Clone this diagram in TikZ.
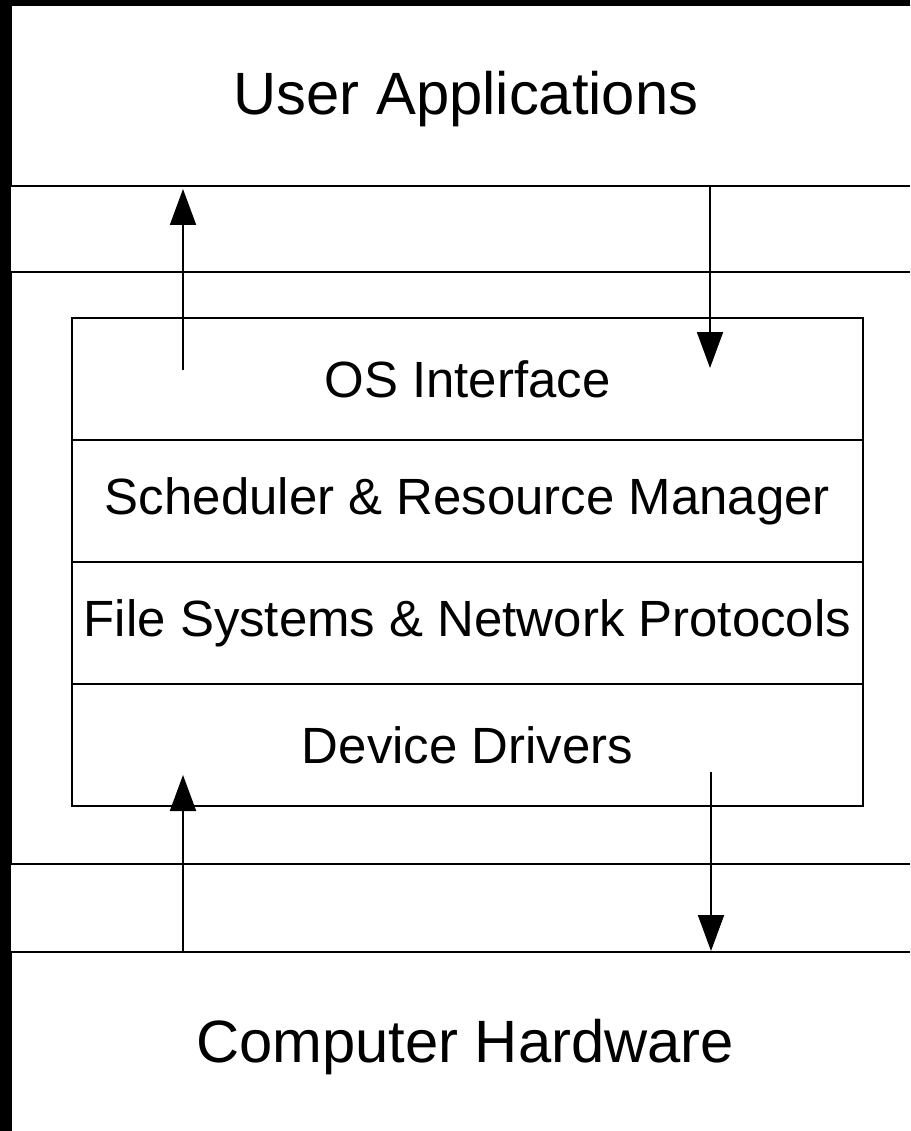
\documentclass[tikz,border=0pt]{standalone}
\usepackage{fontspec}
\setmainfont{Liberation Sans}
\usetikzlibrary{positioning, arrows.meta}
\tikzset{
    layerstyle/.style={draw, line width=1.1pt, rectangle, minimum width=15.82cm, minimum height=2.44cm, inner sep=0pt, outer sep=0pt, font=\fontsize{29}{34}\selectfont},
    bigstyle/.style={font=\fontsize{34}{41}\selectfont, inner sep=0pt},
    bandstyle/.style={line width=1.1pt},
    arrowstyle/.style={line width=1.1pt, -{Triangle[length=0.72cm, width=0.52cm]}}
}
\begin{document}
\begin{tikzpicture}[x=0.02cm, y=-0.02cm]

        \def\topy{186}
        \def\midtopy{272}
        \def\midboty{864}
        \def\boty{952}

        % ================= BACKGROUND =================
        \fill[black] (0,0) rectangle (910,1131);
        \fill[white] (11,4) rectangle (910,1131);
        \useasboundingbox (0,0) rectangle (910,1131);

        % ================= BANDS =================
        \draw[bandstyle] (910,5) -- (11.5,5) -- (11.5,\topy) -- (910,\topy);
        \draw[bandstyle] (910,\midtopy) -- (11.5,\midtopy) -- (11.5,\midboty) -- (910,\midboty);
        \draw[bandstyle] (910,\boty) -- (11.5,\boty) -- (11.5,1131);

        \node[bigstyle] (userapps) at (466,99) {User Applications};
        \node[bigstyle] (hardware) at (465,1047) {Computer Hardware};

        % ================= OS LAYERS =================
        \node[layerstyle] (osif) at (467.5,379) {OS Interface};
        \node[layerstyle, below=0pt of osif] (sched) {Scheduler \& Resource Manager};
        \node[layerstyle, below=0pt of sched] (files) {File Systems \& Network Protocols};
        \node[layerstyle, below=0pt of files] (drivers) {Device Drivers};

        % ================= ARROWS =================
        \coordinate (upin) at (183,370);
        \coordinate (upout) at (183,189);
        \coordinate (downin) at (710,\topy);
        \coordinate (downout) at (710,368);
        \coordinate (hwup) at (183,\boty);
        \coordinate (hwupend) at (183,775);
        \coordinate (hwdown) at (711,772);
        \coordinate (hwdownend) at (711,951);

        \draw[arrowstyle] (upin) -- (upout);
        \draw[arrowstyle] (downin) -- (downout);
        \draw[arrowstyle] (hwup) -- (hwupend);
        \draw[arrowstyle] (hwdown) -- (hwdownend);

\end{tikzpicture}
\end{document}
